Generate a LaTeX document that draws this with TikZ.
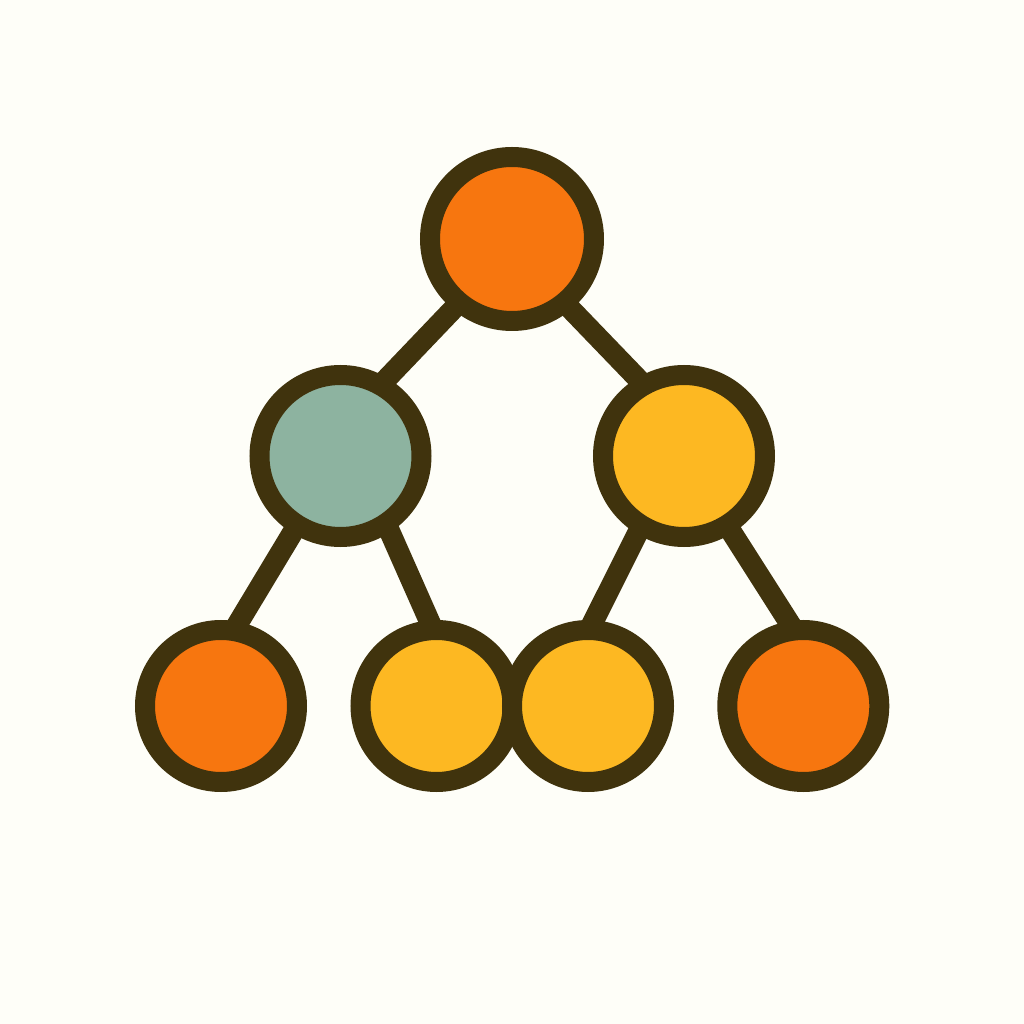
\documentclass[tikz,border=0pt]{standalone}
\usepackage{xcolor}
\usepackage{tikz}
\usetikzlibrary{backgrounds}

\definecolor{bgcream}{HTML}{FEFEF8}
\definecolor{outline}{HTML}{40330D}
\definecolor{hotorange}{HTML}{F7760F}
\definecolor{sunyellow}{HTML}{FDB822}
\definecolor{sage}{HTML}{8DB3A0}

\begin{document}
\begin{tikzpicture}[
            ball/.style={shape=circle, draw=outline, line width=0.2cm, inner sep=0pt},
            rootball/.style={ball, minimum size=1.64cm},
            midball/.style={ball, minimum size=1.62cm},
            leafball/.style={ball, minimum size=1.52cm},
            link/.style={draw=outline, line width=0.21cm, shorten <=-0.15cm, shorten >=-0.15cm}]
        \useasboundingbox (0,0) rectangle (10.24,10.24);

        \node[rootball, fill=hotorange] (root) at (5.12,7.85) {};
        \node[midball, fill=sage] (lmid) at (3.405,5.68) {};
        \node[midball, fill=sunyellow] (rmid) at (6.84,5.68) {};

        \node[leafball, fill=hotorange] (leafa) at (2.21,3.18) {};
        \node[leafball, fill=sunyellow] (leafb) at (4.365,3.18) {};
        \node[leafball, fill=sunyellow] (leafc) at (5.88,3.18) {};
        \node[leafball, fill=hotorange] (leafd) at (8.033,3.18) {};

        \begin{scope}[on background layer]
            \fill[bgcream] (0,0) rectangle (10.24,10.24);
            \draw[link] (root.230) -- (lmid.59);
            \draw[link] (root.310) -- (rmid.121);
            \draw[link] (lmid.238) -- (leafa.78);
            \draw[link] (lmid.303) -- (leafb.95);
            \draw[link] (rmid.239) -- (leafc.86);
            \draw[link] (rmid.302) -- (leafd.100);
        \end{scope}
    \end{tikzpicture}
\end{document}
